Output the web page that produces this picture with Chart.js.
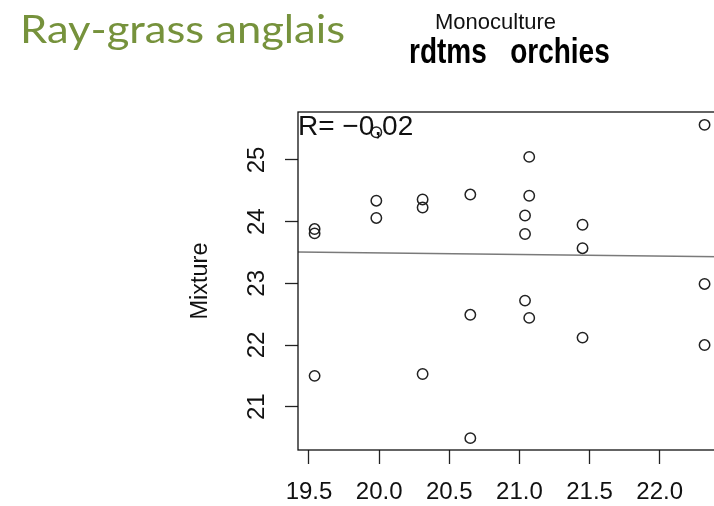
<!DOCTYPE html>
<html>
<head>
<meta charset="utf-8">
<title>Ray-grass anglais</title>
<script src="https://cdn.jsdelivr.net/npm/chart.js@4.4.0/dist/chart.umd.min.js"></script>
<style>
  html, body { margin: 0; padding: 0; background: #fff; overflow: hidden; }
  #wrap { position: relative; width: 730px; height: 506px; }
  #chart { position: absolute; left: 0; top: 0; }
  .hdr { position: absolute; white-space: pre; line-height: 1; }
  #title { left: 20px; top: 9px; font-family: Lato, sans-serif; font-size: 38px; color: #76923c;
           transform-origin: 0 0; }
  #mono { left: 435px; top: 11px; font-family: "Liberation Sans", Arial, sans-serif; font-size: 22px; color: #111; }
  #vars { left: 409px; top: 40px; font-family: "Liberation Sans", Arial, sans-serif; font-size: 28px; font-weight: bold; color: #000;
          transform: scaleY(1.25); transform-origin: 0 23.7px; }
</style>
</head>
<body>
<div id="wrap">
  <canvas id="chart" width="730" height="506"></canvas>
  <div class="hdr" id="title">Ray-grass anglais</div>
  <div class="hdr" id="mono">Monoculture</div>
  <div class="hdr" id="vars">rdtms   orchies</div>
</div>
<script>
// yield (rdtms) in monoculture vs in mixture, one point per plot
const monoculture = [
  19.54, 19.54, 19.54,
  19.98, 19.98, 19.98,
  20.31, 20.31, 20.31,
  20.65, 20.65, 20.65,
  21.04, 21.04, 21.04,
  21.07, 21.07, 21.07,
  21.45, 21.45, 21.45,
  22.32, 22.32, 22.32
];
const mixture = [
  23.88, 23.81, 21.50,
  25.45, 24.34, 24.06,
  24.36, 24.23, 21.53,
  24.44, 22.49, 20.49,
  24.10, 23.80, 22.72,
  25.05, 24.42, 22.44,
  23.95, 23.57, 22.12,
  25.57, 22.99, 22.00
];

// regression line (abline) ends
const fitX = [19.42, 22.43];
const fitY = [23.51, 23.43];

const xTicks = [19.5, 20.0, 20.5, 21.0, 21.5, 22.0];
const yTicks = [21, 22, 23, 24, 25];
const xRange = [19.4216, 22.43];
const yRange = [20.298, 25.778];

const rLabel = 'R= \u22120,02';

const FONT = '"Liberation Sans", Arial, sans-serif';

// the slide title is wider than Lato draws it, stretch it to the same width
const titleEl = document.getElementById('title');
titleEl.style.transform = 'scaleX(' + (325 / titleEl.getBoundingClientRect().width) + ')';

// R-style closed box + correlation text
const boxPlugin = {
  id: 'rbox',
  afterDatasetsDraw(chart) {
    const { ctx, chartArea: a } = chart;
    ctx.save();
    ctx.strokeStyle = '#111';
    ctx.lineWidth = 1.3;
    ctx.strokeRect(a.left, a.top, a.right - a.left, a.bottom - a.top);
    ctx.font = '28px ' + FONT;
    ctx.fillStyle = '#111';
    ctx.textBaseline = 'alphabetic';
    ctx.fillText(rLabel, a.left, a.top + 23);
    ctx.restore();
  }
};

const points = monoculture.map((x, i) => ({ x: x, y: mixture[i] }));
const fitLine = fitX.map((x, i) => ({ x: x, y: fitY[i] }));

new Chart(document.getElementById('chart'), {
  type: 'scatter',
  data: {
    datasets: [{
      data: points,
      pointStyle: 'circle',
      pointRadius: 5.2,
      pointBorderWidth: 1.5,
      pointBorderColor: '#222',
      pointBackgroundColor: 'rgba(0,0,0,0)',
      order: 1
    }, {
      type: 'line',
      data: fitLine,
      borderColor: '#7a7a7a',
      borderWidth: 1.5,
      pointRadius: 0,
      fill: false,
      order: 2
    }]
  },
  options: {
    responsive: false,
    animation: false,
    layout: { padding: { top: 112, right: 10, bottom: 0, left: 0 } },
    plugins: {
      legend: { display: false },
      tooltip: { enabled: false }
    },
    scales: {
      x: {
        type: 'linear',
        min: xRange[0],
        max: xRange[1],
        afterBuildTicks: s => { s.ticks = xTicks.map(v => ({ value: v })); },
        afterFit: s => { s.height = 56; },
        border: { display: false },
        grid: { drawOnChartArea: false, tickLength: 14, tickColor: '#222', tickWidth: 1.3 },
        ticks: {
          autoSkip: false, maxRotation: 0, minRotation: 0, padding: 14,
          color: '#111', font: { family: FONT, size: 24 },
          callback: v => v.toFixed(1)
        }
      },
      y: {
        min: yRange[0],
        max: yRange[1],
        afterBuildTicks: s => { s.ticks = yTicks.map(v => ({ value: v })); },
        afterFit: s => { s.width = 298; },
        border: { display: false },
        grid: { drawOnChartArea: false, tickLength: 13, tickColor: '#222', tickWidth: 1.3 },
        ticks: {
          autoSkip: false, minRotation: 90, maxRotation: 90, crossAlign: 'center', padding: 14,
          color: '#111', font: { family: FONT, size: 24 },
          callback: v => String(v)
        },
        title: {
          display: true, text: 'Mixture', color: '#111',
          font: { family: FONT, size: 23.5 },
          padding: { top: 186, bottom: 0 }
        }
      }
    }
  },
  plugins: [boxPlugin]
});
</script>
</body>
</html>
